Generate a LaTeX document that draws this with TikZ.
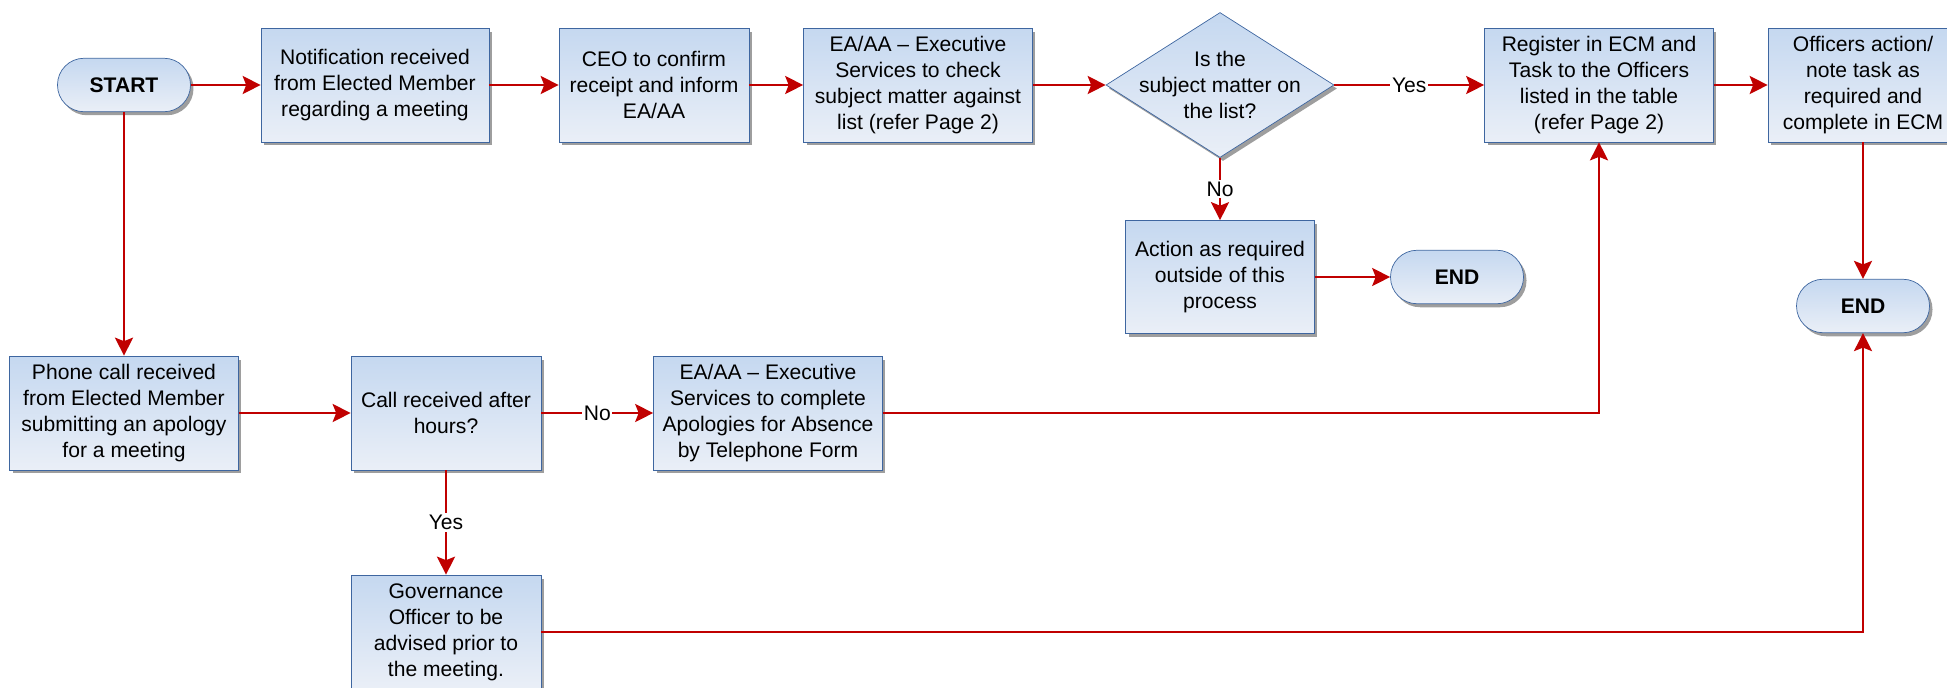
\documentclass[tikz,border=0pt]{standalone}
\usepackage{fontspec}
\setmainfont{Liberation Sans}
\usetikzlibrary{shapes.geometric,shadows,arrows.meta}
\definecolor{flowred}{HTML}{C00000}
\definecolor{boxline}{HTML}{3E66A0}
\definecolor{boxtop}{HTML}{C5D8F0}
\definecolor{boxbot}{HTML}{EAEFF7}
\tikzset{
	shade box/.style={draw=boxline,top color=boxtop,bottom color=boxbot,
		drop shadow={shadow xshift=0.06cm,shadow yshift=-0.07cm,fill=black!38,opacity=1}},
	task/.style={shade box,rectangle,align=center,minimum height=2.28cm},
	terminal/.style={shade box,rectangle,rounded corners=0.53cm,font=\fontsize{12}{14.8}\selectfont\bfseries,minimum width=2.66cm,minimum height=1.07cm},
	decision/.style={shade box,diamond,inner sep=0pt,minimum width=4.56cm,minimum height=2.9cm},
	flow/.style={draw=flowred,line width=1.4pt,-{Stealth[length=0.36cm,width=0.36cm,inset=0.07cm]}},
	answer/.style={fill=white,inner sep=1pt}
}

\begin{document}
\begin{tikzpicture}[x=0.02cm,y=-0.02cm,font=\fontsize{12}{14.8}\selectfont]
		\useasboundingbox (0,0) rectangle (1947,687);
		% top row
		\node (start) at (124,85) [terminal] {START};
		\node (notify) at (375,85) [task,minimum width=4.56cm] {Notification received\\from Elected Member\\regarding a meeting};
		\node (ceo) at (654,85) [task,minimum width=3.8cm] {CEO to confirm\\receipt and inform\\EA/AA};
		\node (check) at (918,85) [task,minimum width=4.58cm] {EA/AA -- Executive\\Services to check\\subject matter against\\list (refer Page 2)};
		\node (list) at (1220,85) [decision] {};
		\node (listtxt) at (list) [align=center] {Is the\\subject matter on\\the list?};
		\node (register) at (1599,85) [task,minimum width=4.58cm] {Register in ECM and\\Task to the Officers\\listed in the table\\(refer Page 2)};
		\node (officers) at (1863,85) [task,minimum width=3.8cm] {Officers action/\\note task as\\required and\\complete in ECM};
		\node (action) at (1220,277) [task,minimum width=3.78cm,minimum height=2.26cm] {Action as required\\outside of this\\process};
		\node (end1) at (1457,277) [terminal] {END};
		\node (end2) at (1863,306) [terminal] {END};
		% bottom row
		\node (phone) at (124,413) [task,minimum width=4.58cm] {Phone call received\\from Elected Member\\submitting an apology\\for a meeting};
		\node (call) at (446,413) [task,minimum width=3.8cm] {Call received after\\hours?};
		\node (form) at (768,413) [task,minimum width=4.58cm] {EA/AA -- Executive\\Services to complete\\Apologies for Absence\\by Telephone Form};
		\node (govern) at (446,632) [task,minimum width=3.8cm] {Governance\\Officer to be\\advised prior to\\the meeting.};
		% connectors
		\draw[flow] (start) -- (notify);
		\draw[flow] (notify) -- (ceo);
		\draw[flow] (ceo) -- (check);
		\draw[flow] (check) -- (list);
		\draw[flow] (list) -- node[answer] {Yes} (register);
		\draw[flow] (register) -- (officers);
		\draw[flow] (list) -- node[answer] {No} (action);
		\draw[flow] (action) -- (end1);
		\draw[flow] (officers) -- (end2);
		\draw[flow] (start) -- (phone);
		\draw[flow] (phone) -- (call);
		\draw[flow] (call) -- node[answer] {No} (form);
		\draw[flow] (call) -- node[answer] {Yes} (govern);
		\draw[flow] (form) -| (register);
		\draw[flow] (govern) -| (end2);
	\end{tikzpicture}
\end{document}
